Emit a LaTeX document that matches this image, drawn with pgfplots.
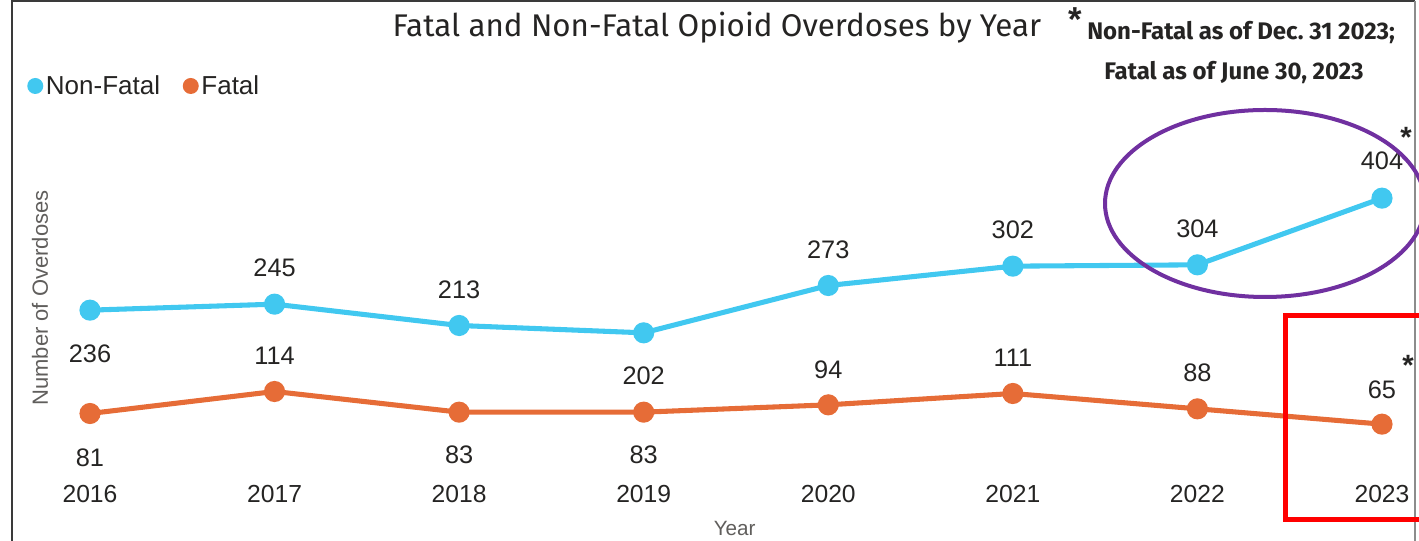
\documentclass[border=0pt]{standalone}
\usepackage{pgfplots}
\pgfplotsset{compat=1.18}
\usepackage{pgfplotstable}
\usepackage{fontspec}
\setmainfont{Liberation Sans}
\newfontfamily\titlefont{Fira Sans}
\definecolor{nf}{HTML}{41C8F0}
\definecolor{ft}{HTML}{E66C37}
\definecolor{txt}{HTML}{252423}
\definecolor{lbl}{HTML}{605E5C}
\definecolor{purp}{HTML}{7030A0}
\definecolor{frame}{HTML}{3A3A3A}

\pgfplotstableread{
x y s
0 236 -33
1 245 27
2 213 27
3 202 -32
4 273 27
5 302 27
6 304 27
7 404 28
}\nonfatal

\pgfplotstableread{
x y s
0 81 -33
1 114 27
2 83 -32
3 83 -32
4 94 26
5 111 27
6 88 27
7 65 26
}\fatal

\begin{document}
\begin{tikzpicture}
\begin{axis}[
  at={(46.725pt,55.125pt)}, anchor=south west,
  scale only axis,
  width=1014.7pt, height=225pt,
  xmin=-0.15, xmax=7.18, ymin=0, ymax=450,
  clip=false,
  /pgf/number format/assume math mode=true,
  axis line style={draw=none},
  tick style={draw=none},
  major tick length=0pt,
  ytick=\empty,
  xtick={0,1,2,3,4,5,6,7},
  xticklabels={2016,2017,2018,2019,2020,2021,2022,2023},
  xticklabel style={font=\fontsize{18.5}{20}\selectfont, text=txt, anchor=center, yshift=-19.9pt},
  xlabel={Year},
  xlabel style={at={(axis description cs:0.497,0)}, anchor=center, yshift=-45.4pt, font=\fontsize{15.5}{17}\selectfont, text=lbl},
  ylabel={Number of Overdoses},
  ylabel style={at={(axis description cs:-0.0165,0.565)}, anchor=center, font=\fontsize{16.5}{18}\selectfont, text=lbl},
  legend style={draw=none, fill=none, legend columns=2, at={(axis description cs:-0.0261,1.2717)}, anchor=west,
    font=\fontsize{19.5}{21}\selectfont, text=txt, inner sep=0pt,
    /tikz/every even column/.append style={column sep=15pt},
    nodes={inner sep=2pt}},
  legend image code/.code={\fill[#1, draw=none] (6pt,0pt) circle (6pt);},
  nodes near coords={\pgfmathprintnumber{\pgfplotspointmeta}},
  every node near coord/.append style={anchor=center, font=\fontsize{19}{21}\selectfont, text=txt},
]
\addplot[color=nf, line width=3.8pt, mark=*, mark size=6pt,
  visualization depends on={\thisrow{s} \as \ls},
  every node near coord/.append style={yshift=\ls pt}]
  table[x=x, y=y] {\nonfatal};
\addlegendentry{Non-Fatal}
\addplot[color=ft, line width=3.8pt, mark=*, mark size=6pt,
  visualization depends on={\thisrow{s} \as \ls},
  every node near coord/.append style={yshift=\ls pt}]
  table[x=x, y=y] {\fatal};
\addlegendentry{Fatal}
\end{axis}

\begin{scope}[x=0.75pt, y=0.75pt]
  % frame
  \draw[frame, line width=1.5pt] (12,-5) -- (12,540) -- (1415,540);
  \draw[black!45, line width=1.2pt] (1415,540) -- (1415,-5);
  % title
  \node[anchor=center, text=txt, font=\titlefont\fontsize{23.5}{26}\selectfont] at (717,513) {Fatal and Non-Fatal Opioid Overdoses by Year};
  \node[anchor=center, text=txt, font=\bfseries\fontsize{26}{26}\selectfont] at (1075,521) {*};
  \node[anchor=west, inner sep=0pt, text=txt, font=\titlefont\bfseries\fontsize{18}{20}\selectfont] at (1087,508) {Non-Fatal as of Dec.\ 31 2023;};
  \node[anchor=center, inner sep=0pt, text=txt, font=\titlefont\bfseries\fontsize{18}{20}\selectfont] at (1234,468.5) {Fatal as of June 30, 2023};
  % highlights
  \draw[purp, line width=3pt] (1265,337.5) ellipse [x radius=160, y radius=93.5];
  \draw[red, line width=3.75pt] (1440,225.5) -- (1285.5,225.5) -- (1285.5,21.5) -- (1440,21.5);
  \node[text=txt, font=\bfseries\fontsize{22}{22}\selectfont] at (1406,404) {*};
  \node[text=txt, font=\bfseries\fontsize{22}{22}\selectfont] at (1408,176) {*};
\end{scope}
\pgfresetboundingbox
\useasboundingbox (0,0) rectangle (1064.25pt,405.75pt);
\end{tikzpicture}
\end{document}
